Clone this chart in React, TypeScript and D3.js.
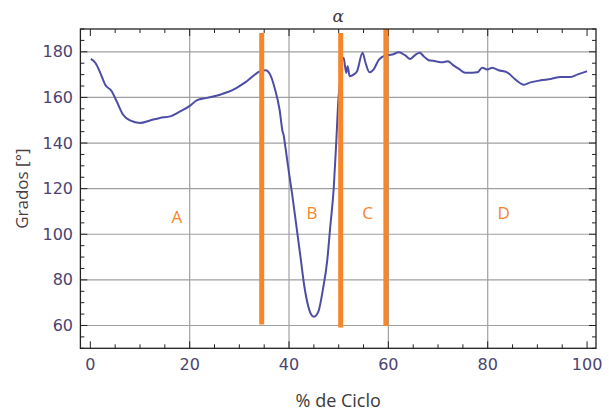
import React from "react";
import * as d3 from "d3";

// angle curve, % of cycle vs degrees
const cycle = [
  0.1, 1, 2, 3, 4.3, 5.3, 6.6, 8, 10, 12, 14, 16.1, 18.1, 20.1, 21.4, 23.5, 26.1, 28.8, 31.5, 34.2,
  35.3, 36.2, 37.2, 38.1, 38.7, 38.9, 39.25, 39.9, 40.6, 41.5, 42.3, 43.1, 43.9, 44.4, 45, 45.5, 46,
  46.8, 47.7, 48.3, 49, 49.5, 49.9, 50.3, 50.6, 51,
  51.5, 51.8, 52.2, 53, 53.7, 54.8, 55.4, 56.2, 57, 58.1, 59.4, 60.8,
  62.1, 63.4, 64.4, 65.5, 66.3, 67.1, 68.1, 69.5, 70.8, 72, 72.9, 74.2, 75.5, 76.9, 77.9, 78.9, 79.9,
  80.9, 82.2, 83.9, 85.6, 87.3, 88.6, 90.7, 92.7, 94.7, 96.7, 98, 100
];
const grados = [
  176.9, 175.2, 170.8, 165.6, 162.7, 158.3, 152.4, 149.9, 148.8, 149.9, 151, 151.7, 153.9, 156.4, 158.7, 159.8, 161.2, 163.4, 167.1, 171.5,
  171.9, 170, 163.4, 154.6, 145.1, 143.6, 138.5, 128.3, 118, 103.3, 90.2, 77, 68.2, 65, 63.8, 64.5, 66.7,
  75.5, 88.7, 103.3, 120.2, 140, 157.6, 167.8, 176, 177.4,
  170.8, 173.7, 169.3, 170, 171.5, 179.6, 175.2, 171, 172.2, 176.6, 178.4, 178.8,
  179.8, 178.4, 176.9, 178.8, 179.6, 178.1, 176.3, 175.9, 175.4, 175.9, 174.4, 172.5, 170.8, 170.8, 171, 173, 172.2,
  173, 171.9, 171, 167.8, 165.6, 166.6, 167.5, 168.1, 169, 169, 170, 171.5
];

// phase boundaries (vertical orange bars)
const phaseX = [34.5, 50.4, 59.5];
const phaseBottom = [60.4, 59.1, 59.8];
const phaseTop = [188.3, 188.3, 190];

// phase names
const phaseNames = ["A", "B", "C", "D"];
const phaseNameX = [17.4, 44.6, 55.8, 83.2];
const phaseNameY = [108, 109.5, 109.5, 109.5];

const xTicks = [0, 20, 40, 60, 80, 100];
const yTicks = [60, 80, 100, 120, 140, 160, 180];

const W = 609;
const H = 412;
const left = 80.4, right = 596, top = 29, bottom = 348.3;
const orange = "#f7852a";
const labelColor = "#4b4470";

export default function App() {
  const x = d3.scaleLinear().domain([-2, 101.8]).range([left, right]);
  const y = d3.scaleLinear().domain([50, 190]).range([bottom, top]);

  const pts = cycle.map((c, i) => [c, grados[i]] as [number, number]);
  const line = d3.line<[number, number]>()
    .x(d => x(d[0]))
    .y(d => y(d[1]))
    .curve(d3.curveMonotoneX);

  const xMinor = d3.range(0, 101, 5);
  const yMinor = d3.range(50, 191, 5);

  return (
    <svg width={W} height={H} style={{ position: "absolute", left: 0, top: 0, background: "#fff" }}>
      {/* grid */}
      {xTicks.filter(t => t > 0 && t < 100).map(t => (
        <line key={"gx" + t} x1={x(t)} x2={x(t)} y1={top} y2={bottom} stroke="#a0a0a0" strokeWidth={1.2} />
      ))}
      {yTicks.map(t => (
        <line key={"gy" + t} x1={left} x2={right} y1={y(t)} y2={y(t)} stroke="#a0a0a0" strokeWidth={1.2} />
      ))}

      {/* ticks on all four sides */}
      {xMinor.map(t => {
        const len = t % 20 === 0 ? 7 : 4;
        return (
          <g key={"tx" + t} stroke="#222" strokeWidth={1}>
            <line x1={x(t)} x2={x(t)} y1={bottom} y2={bottom - len} />
            <line x1={x(t)} x2={x(t)} y1={top} y2={top + len} />
          </g>
        );
      })}
      {yMinor.map(t => {
        const len = t % 20 === 0 ? 7 : 4;
        return (
          <g key={"ty" + t} stroke="#222" strokeWidth={1}>
            <line x1={left} x2={left + len} y1={y(t)} y2={y(t)} />
            <line x1={right} x2={right - len} y1={y(t)} y2={y(t)} />
          </g>
        );
      })}

      {/* curve */}
      <path d={line(pts) ?? ""} fill="none" stroke="#4d4da6" strokeWidth={2} strokeLinejoin="round" />

      {/* phase bars */}
      {phaseX.map((p, i) => (
        <line key={"ph" + i} x1={x(p)} x2={x(p)} y1={y(phaseBottom[i])} y2={y(phaseTop[i])} stroke={orange} strokeWidth={5} />
      ))}

      {phaseNames.map((n, i) => (
        <text key={n} x={x(phaseNameX[i])} y={y(phaseNameY[i])} fill={orange} fontSize={17}
          fontFamily="Open Sans, sans-serif" textAnchor="middle" dominantBaseline="central">{n}</text>
      ))}

      {/* frame */}
      <rect x={left} y={top} width={right - left} height={bottom - top} fill="none" stroke="#222" strokeWidth={1.3} />

      {/* tick labels */}
      {xTicks.map(t => (
        <text key={"lx" + t} x={x(t)} y={370} fill={labelColor} fontSize={16} fontFamily="DejaVu Sans, sans-serif"
          textAnchor="middle">{t}</text>
      ))}
      {yTicks.map(t => (
        <text key={"ly" + t} x={73} y={y(t)} fill={labelColor} fontSize={16} fontFamily="DejaVu Sans, sans-serif"
          textAnchor="end" dominantBaseline="central">{t}</text>
      ))}

      {/* title and axis labels */}
      <text x={(left + right) / 2} y={22} fill="#3a3a3a" fontSize={17} fontStyle="italic"
        fontFamily="DejaVu Serif, serif" textAnchor="middle">α</text>
      <text x={(left + right) / 2} y={407} fill="#3a3a3a" fontSize={18} fontFamily="Open Sans, sans-serif"
        textAnchor="middle">% de Ciclo</text>
      <text transform={`translate(28,${(top + bottom) / 2}) rotate(-90)`} fill="#4a3f3f" fontSize={17}
        fontFamily="Open Sans, sans-serif" textAnchor="middle">Grados [°]</text>
    </svg>
  );
}
